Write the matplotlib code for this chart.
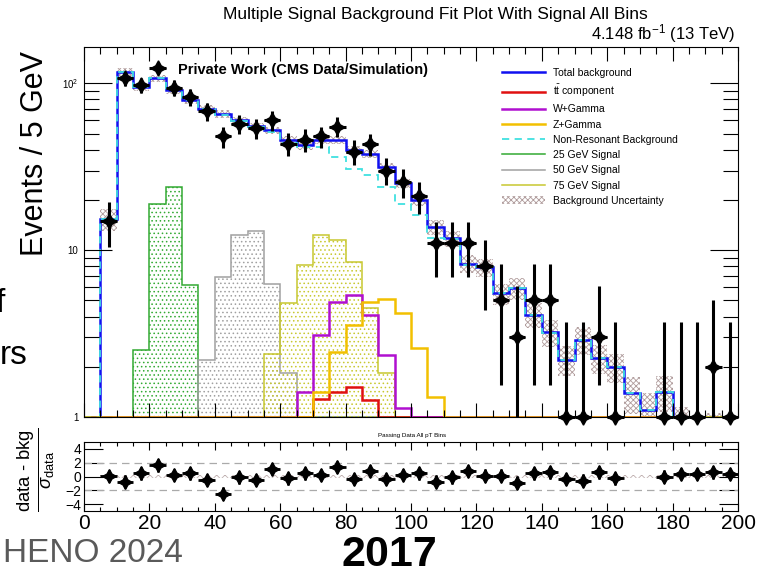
import numpy as np
import matplotlib
matplotlib.use('Agg')
import matplotlib.pyplot as plt
from matplotlib.lines import Line2D
from matplotlib.patches import Patch
from matplotlib.ticker import FixedLocator, MultipleLocator, FuncFormatter, NullFormatter

plt.rcParams['font.family'] = ['Liberation Sans', 'DejaVu Sans']
plt.rcParams['mathtext.fontset'] = 'custom'
plt.rcParams['mathtext.rm'] = 'Liberation Sans'
plt.rcParams['mathtext.it'] = 'Liberation Sans:italic'
plt.rcParams['mathtext.bf'] = 'Liberation Sans:bold'
plt.rcParams['hatch.linewidth'] = 0.6

# 5 GeV bins, 0-200
edges = np.arange(0, 205, 5)
centers = edges[:-1] + 2.5

# observed data (nan = no point drawn)
data = [np.nan, 15, 107, 97, 124, 94, 83, 68, 48, 57,
        54, 60, 43.5, 46, 48, 55, 39, 43, 30, 25.5,
        21, 11, 11, 11, 8, 5, 3, 5, 5, 1,
        1, 3, 1, np.nan, np.nan, 1, 1, 1, 2, 1]
data_err_lo = [0, 4.5, 10.5, 10, 11, 10, 9.5, 8.5, 7, 7.5,
               7.5, 8, 7, 7, 7, 7.5, 6.5, 6.5, 5.5, 5,
               4.6, 4.1, 4.1, 4.1, 3.6, 3.45, 2.0, 3.45, 3.45, 0,
               0, 1.45, 0, 0, 0, 0, 0, 0, 1.0, 0]
data_err_hi = [0, 4.4, 10.5, 10, 11, 10, 9.5, 8.5, 7, 7.5,
               7.5, 8, 7, 7, 7, 7.5, 6.5, 6.5, 5.5, 5,
               4.6, 3.7, 3.7, 3.7, 3.5, 3.3, 3.1, 3.3, 3.3, 2.7,
               2.7, 3.1, 2.7, 0, 0, 2.7, 2.7, 2.7, 3.0, 2.7]

total_bkg = [0, 15.3, 117, 95, 107, 91, 79, 70.5, 65.5, 60,
             55.3, 52.3, 45.6, 42.5, 45.6, 45.6, 39.7, 37.9, 31.5, 25.1,
             19.9, 13.8, 11.8, 8.3, 7.9, 5.5, 5.9, 4.1, 3.24, 2.2,
             2.9, 2.25, 2.0, 1.39, 1.10, 1.42, 0.9, 0.6, 0.85, 0.6]
bkg_unc = [0, 2.3, 6, 5, 5.5, 4.5, 4, 3.5, 3.3, 3,
           2.8, 2.6, 2.5, 2.4, 2.5, 2.5, 2.2, 2.1, 1.9, 1.6,
           1.4, 1.4, 1.3, 1.0, 1.0, 0.8, 0.9, 0.7, 0.6, 0.45,
           0.55, 0.45, 0.4, 0.35, 0.3, 0.35, 0.25, 0.2, 0.2, 0.2]
nonres = [0, 15.3, 117, 95, 107, 90.8, 79, 70, 65, 59.5,
          55, 51, 44, 41.6, 41.6, 36.2, 30.8, 28.1, 23.9, 19.0,
          16.2, 11.8, 11.7, 8.2, 7.9, 5.5, 5.9, 4.1, 3.2, 2.2,
          2.9, 2.25, 2.0, 1.39, 1.1, 1.42, 0.9, 0.6, 0.85, 0.6]
ttbar = [0]*14 + [1.29, 1.42, 1.52, 1.26, 0.98, 0.9] + [0]*20
wgamma = [0]*13 + [1.42, 3.1, 4.9, 5.4, 4.1, 2.35, 1.14] + [0]*20
zgamma = [0]*14 + [1.42, 2.46, 3.56, 4.9, 5.1, 4.18, 2.58, 1.32] + [0]*18
sig25 = [0]*3 + [2.52, 19.0, 23.9, 6.2] + [0]*33
sig50 = [0]*7 + [2.19, 6.92, 12.3, 13.0, 6.3, 1.84] + [0]*27
sig75 = [0]*11 + [2.37, 4.84, 8.13, 12.4, 11.5, 8.44, 4.48, 1.83] + [0]*21

pulls = [np.nan, 0.07, -0.73, 0.45, 1.62, 0.2, 0.45, -0.5, -2.47, -0.12,
         -0.5, 1.06, -0.26, 0.45, 0.2, 1.39, -0.4, 0.78, -0.35, 0.2,
         0.45, -0.73, -0.12, 0.82, 0.12, 0.12, -0.87, 0.45, 0.59, -0.35,
         -0.59, 0.59, -0.26, np.nan, np.nan, -0.02, 0.35, 0.35, 0.59, 0.35]

W, H = 767, 576
def fx(px):
    return px / W
def fy(py):
    return 1 - py / H

fig = plt.figure(figsize=(W/100, H/100), dpi=100)
ax = fig.add_axes([fx(84), fy(417), 654/W, 370/H])
axr = fig.add_axes([fx(84), fy(511), 654/W, 69/H])

c_blue = '#1010f0'
c_red = '#e01010'
c_purple = '#b010d0'
c_orange = '#f2c000'
c_cyan = '#40e0e0'
c_green = '#33aa33'
c_gray = '#a0a0a0'
c_olive = '#c8c830'
c_unc = '#b09c9c'

def clip1(v):
    return np.clip(np.asarray(v, dtype=float), 1.0, None)

# signals: dotted fill + outline
for vals, col in [(sig25, c_green), (sig50, c_gray), (sig75, c_olive)]:
    v = clip1(vals)
    ax.stairs(v, edges, baseline=1.0, fill=True, facecolor='none',
              edgecolor=col, hatch='....', lw=0)
    ax.stairs(v, edges, baseline=None, color=col, lw=1.1)

# background uncertainty band
tb = np.array(total_bkg)
bu = np.array(bkg_unc)
lo = np.clip(tb - bu, 0.5, None)[1:]
hi = np.clip(tb + bu, 0.5, None)[1:]
ax.fill_between(edges[1:], np.append(lo, lo[-1]), np.append(hi, hi[-1]),
                step='post', facecolor='none', edgecolor=c_unc,
                hatch='xxxxxx', lw=0)

ax.stairs(clip1(ttbar), edges, baseline=None, color=c_red, lw=1.8)
ax.stairs(clip1(wgamma), edges, baseline=None, color=c_purple, lw=1.8)
ax.stairs(clip1(total_bkg), edges, baseline=1.0, color=c_blue, lw=1.8)
ax.stairs(clip1(nonres), edges, baseline=1.0, color=c_cyan, lw=1.3, ls=(0, (4, 3)))
ax.stairs(clip1(zgamma), edges, baseline=None, color=c_orange, lw=1.8)

d = np.array(data, dtype=float)
m = ~np.isnan(d)
eb = ax.errorbar(centers[m], d[m], xerr=2.5,
                 yerr=[np.array(data_err_lo)[m], np.array(data_err_hi)[m]],
                 fmt='none', ecolor='k', elinewidth=2.2, capsize=0)
for art in eb.lines[2]:
    art.set_clip_on(False)
ax.plot(centers[m], d[m], ls='none', marker=(4, 1, 0), ms=11, color='k', clip_on=False)

ax.set_yscale('log')
ax.set_xlim(0, 200)
ax.set_ylim(1, 165)
ax.xaxis.set_major_locator(MultipleLocator(20))
ax.xaxis.set_minor_locator(MultipleLocator(5))
ax.xaxis.set_major_formatter(NullFormatter())
ax.yaxis.set_major_locator(FixedLocator([1, 10, 100]))
ax.yaxis.set_minor_locator(FixedLocator([k * 10**e for e in range(0, 3) for k in range(2, 10)]))
ax.yaxis.set_major_formatter(FuncFormatter(lambda v, p: {1: '1', 10: '10', 100: '$10^2$'}.get(int(round(v)), '')))
ax.yaxis.set_minor_formatter(NullFormatter())
ax.tick_params(which='both', direction='in', top=True, right=True, width=0.8)
ax.tick_params(axis='x', which='major', length=10)
ax.tick_params(axis='x', which='minor', length=5)
ax.tick_params(axis='y', which='major', length=20, labelsize=7, pad=4)
ax.tick_params(axis='y', which='minor', length=11)

# pull panel
axr.axhline(2, color='#aaaaaa', ls=(0, (6, 4)), lw=0.9)
axr.axhline(-2, color='#aaaaaa', ls=(0, (6, 4)), lw=0.9)
axr.fill_between([5, 200], [-0.15, -0.15], [0.15, 0.15], facecolor='none',
                 edgecolor='#c0b0b0', hatch='xxxx', lw=0)
p = np.array(pulls, dtype=float)
mp = ~np.isnan(p)
axr.errorbar(centers[mp], p[mp], xerr=2.5, yerr=0.9, fmt='none', ecolor='k',
             elinewidth=2.0, capsize=0)
axr.plot(centers[mp], p[mp], ls='none', marker=(4, 1, 0), ms=10, color='k')
axr.set_xlim(0, 200)
axr.set_ylim(-5, 5)
axr.xaxis.set_major_locator(MultipleLocator(20))
axr.xaxis.set_minor_locator(MultipleLocator(5))
axr.yaxis.set_major_locator(FixedLocator([-4, -2, 0, 2, 4]))
axr.yaxis.set_minor_locator(FixedLocator([]))
axr.yaxis.set_major_formatter(FuncFormatter(lambda v, p: '%d' % v if v >= 0 else '\u2212%d' % -v))
axr.tick_params(which='both', direction='in', top=True, right=True, width=0.8)
axr.tick_params(axis='x', which='major', length=6, labelsize=15, pad=2)
axr.tick_params(axis='x', which='minor', length=3)
axr.tick_params(axis='y', which='major', length=14, labelsize=10, pad=2)

# texts
fig.text(fx(435), fy(14), 'Multiple Signal Background Fit Plot With Signal All Bins',
         ha='center', va='center', fontsize=12.5)
fig.text(fx(735), fy(34), '4.148 fb$^{-1}$ (13 TeV)', ha='right', va='center', fontsize=12)
fig.text(fx(178), fy(70), 'Private Work (CMS Data/Simulation)', ha='left', va='center',
         fontsize=10.5, fontweight='bold')
fig.text(fx(35), fy(153), 'Events / 5 GeV', rotation=90, ha='center', va='center', fontsize=22)
fig.text(fx(36), fy(470), '$\\frac{\\mathrm{data\\ \u2010\\ bkg}}{\\sigma_{\\mathrm{data}}}$',
         rotation=90, ha='center', va='center', fontsize=19)
fig.text(fx(412), fy(436), 'Passing Data All pT Bins', ha='center', va='center', fontsize=4.5)

handles = [
    Line2D([], [], color=c_blue, lw=1.8),
    Line2D([], [], color=c_red, lw=1.8),
    Line2D([], [], color=c_purple, lw=1.8),
    Line2D([], [], color=c_orange, lw=1.8),
    Line2D([], [], color=c_cyan, lw=1.3, ls=(0, (4, 3))),
    Line2D([], [], color=c_green, lw=1.1),
    Line2D([], [], color=c_gray, lw=1.1),
    Line2D([], [], color=c_olive, lw=1.1),
    Patch(facecolor='none', edgecolor=c_unc, hatch='xxxxxx', lw=0),
]
labels = ['Total background', r'$\mathrm{t\bar{t}}$ component', 'W+Gamma', 'Z+Gamma',
          'Non-Resonant Background', '25 GeV Signal', '50 GeV Signal', '75 GeV Signal',
          'Background Uncertainty']
fig.legend(handles, labels, loc='upper left', bbox_to_anchor=(fx(502), fy(68)),
           frameon=False, fontsize=7.5, handlelength=4.1, handletextpad=0.8,
           labelspacing=0.5, borderpad=0, borderaxespad=0, handleheight=0.7)

# pieces of the slide behind the plot
fig.text(fx(183), fy(553), 'HENO 2024', ha='right', va='center', fontsize=24, color='#5a5a5a')
fig.text(fx(389), fy(566), '2017', ha='center', va='baseline', fontsize=31, fontweight='bold')
fig.text(fx(28), fy(356), 'rs', ha='right', va='center', fontsize=24)
fig.text(fx(5), fy(303), 'f', ha='right', va='center', fontsize=24)

fig.savefig('out.png', dpi=100)
